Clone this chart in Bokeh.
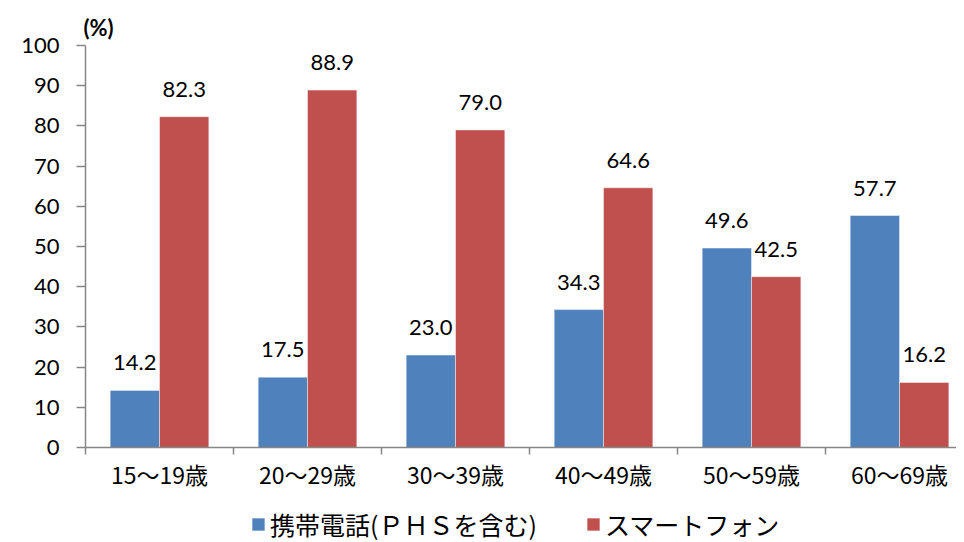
from bokeh.plotting import figure
from bokeh.layouts import column
from bokeh.models import (ColumnDataSource, Range1d, FixedTicker, LabelSet, Title,
                          Legend, LegendItem)
from bokeh.transform import dodge
from bokeh.core.properties import value
from bokeh.embed import file_html
from bokeh.resources import INLINE

categories = ["15～19歳", "20～29歳", "30～39歳", "40～49歳", "50～59歳", "60～69歳"]
series_names = ["携帯電話(ＰＨＳを含む)", "スマートフォン"]
feature_phone = [14.2, 17.5, 23.0, 34.3, 49.6, 57.7]
smartphone = [82.3, 88.9, 79.0, 64.6, 42.5, 16.2]
y_ticks = [0, 10, 20, 30, 40, 50, 60, 70, 80, 90, 100]

BLUE = "#4F81BD"
RED = "#C0504D"
AXIS = "#868686"
NUM_FONT = "Lato"
JP_FONT = "Noto Sans CJK JP"

pos = [i + 0.5 for i in range(len(categories))]
src = ColumnDataSource(dict(
    pos=pos,
    fp=feature_phone,
    sp=smartphone,
    fp_lbl=[f"{v:.1f}" for v in feature_phone],
    sp_lbl=[f"{v:.1f}" for v in smartphone],
))

p = figure(frame_width=871, frame_height=402, output_backend="svg", toolbar_location=None,
           x_range=Range1d(0, 5.885), y_range=Range1d(0, 100),
           min_border_left=85, min_border_top=45, min_border_bottom=50,
           min_border_right=0)
p.outline_line_color = None
p.xgrid.visible = False
p.ygrid.visible = False
p.background_fill_color = "white"
p.border_fill_color = "white"

bw = 1 / 3
bar_style = dict(line_color="white", line_alpha=0.45, line_width=1)
r1 = p.vbar(x=dodge("pos", -1 / 6, range=p.x_range), top="fp", width=bw, source=src,
            fill_color=BLUE, **bar_style)
r2 = p.vbar(x=dodge("pos", 1 / 6, range=p.x_range), top="sp", width=bw, source=src,
            fill_color=RED, **bar_style)

for col, lbl, off in (("fp", "fp_lbl", -1 / 6), ("sp", "sp_lbl", 1 / 6)):
    ls = LabelSet(x=dodge("pos", off, range=p.x_range), y=col, text=lbl, source=src,
                  text_align="center", text_baseline="alphabetic", y_offset=20,
                  text_font=value(NUM_FONT), text_font_size="22px", text_color="black")
    p.add_layout(ls)

# y axis
yax = p.yaxis[0]
yax.ticker = FixedTicker(ticks=y_ticks)
yax.axis_line_color = AXIS
yax.axis_line_width = 1.5
yax.major_tick_line_color = AXIS
yax.major_tick_line_width = 1.5
yax.major_tick_out = 9
yax.major_tick_in = 0
yax.minor_tick_line_color = None
yax.major_label_standoff = 17
yax.major_label_text_font = NUM_FONT
yax.major_label_text_font_size = "22px"
yax.major_label_text_color = "black"

# x axis: labels at centers, tick marks at category boundaries
xax = p.xaxis[0]
xax.ticker = FixedTicker(ticks=pos, minor_ticks=list(range(len(categories))))
xax.major_label_overrides = {pv: c for pv, c in zip(pos, categories)}
xax.axis_line_color = AXIS
xax.axis_line_width = 1.5
xax.major_tick_line_color = None
xax.major_tick_out = 0
xax.major_tick_in = 0
xax.minor_tick_line_color = AXIS
xax.minor_tick_line_width = 1.5
xax.minor_tick_out = 7
xax.minor_tick_in = 0
xax.major_label_standoff = 2
xax.major_label_text_font = JP_FONT
xax.major_label_text_font_size = "23px"
xax.major_label_text_color = "black"

# unit label
p.add_layout(Title(text="(%)", align="left", offset=-2, standoff=9,
                   text_font=NUM_FONT, text_font_size="22px",
                   text_font_style="bold", text_color="black"), "above")

# legend strip below the chart (bars here fall outside its range, only the legend shows)
lg = figure(width=956, height=45, output_backend="svg", toolbar_location=None,
            x_range=Range1d(0, 1), y_range=Range1d(1000, 1001),
            min_border=0, x_axis_location=None, y_axis_location=None)
lg.outline_line_color = None
lg.xgrid.visible = False
lg.ygrid.visible = False
l1 = lg.vbar(x=dodge("pos", -1 / 6, range=lg.x_range), top="fp", width=bw, source=src,
             fill_color=BLUE, **bar_style)
l2 = lg.vbar(x=dodge("pos", 1 / 6, range=lg.x_range), top="sp", width=bw, source=src,
             fill_color=RED, **bar_style)
legend = Legend(items=[LegendItem(label=series_names[0], renderers=[l1]),
                       LegendItem(label=series_names[1], renderers=[l2])],
                location=(165, 0), orientation="horizontal",
                glyph_width=16, glyph_height=16, label_standoff=4, spacing=48,
                padding=0, margin=0, border_line_color=None,
                background_fill_alpha=0, label_text_font=JP_FONT,
                label_text_font_size="25px", label_text_color="black")
lg.add_layout(legend)

layout = column(p, lg, spacing=0)
open("out.html", "w").write(file_html(layout, INLINE))
